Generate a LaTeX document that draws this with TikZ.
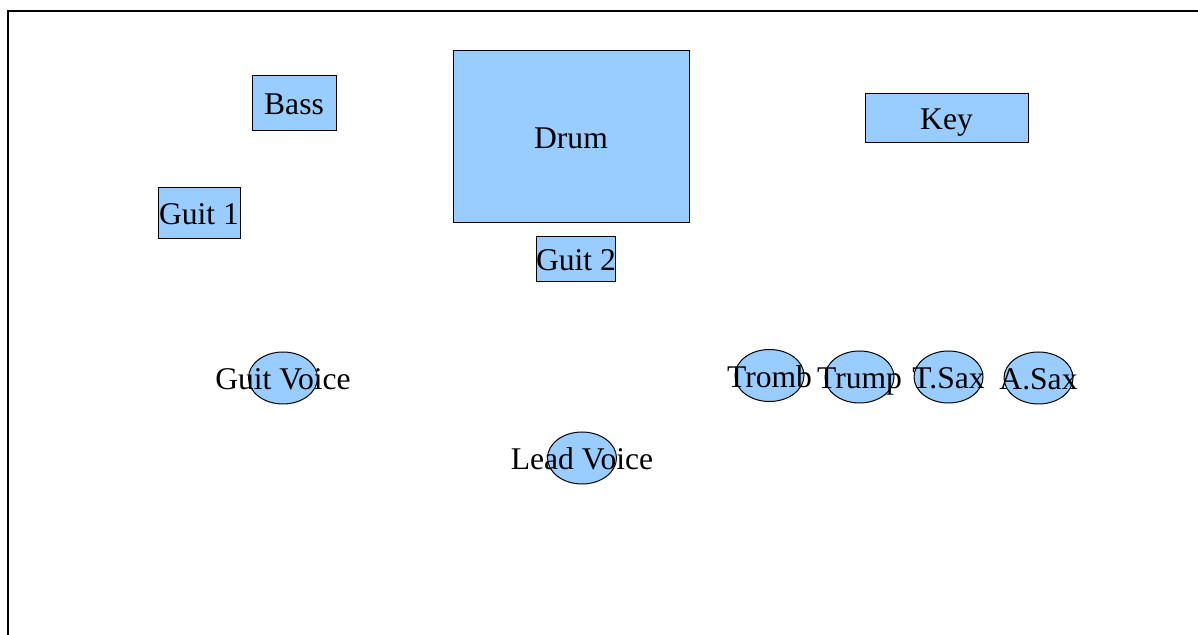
\documentclass[tikz,border=0pt]{standalone}
\usepackage{fontspec}
\setmainfont{Liberation Serif}
\usetikzlibrary{shapes.geometric}
\definecolor{stageblue}{HTML}{99CCFF}

\begin{document}
\begin{tikzpicture}[x=0.5pt, y=-0.5pt,
    every node/.style={draw, fill=stageblue, line width=0.5pt, inner sep=0pt,
        font=\fontsize{15.8}{18}\selectfont, text height=12pt, text depth=0pt},
    amp/.style={rectangle},
    mic/.style={ellipse, minimum width=34.5pt, minimum height=26pt}]
    \useasboundingbox (0,0) rectangle (1198,635);
    \draw[line width=0.6pt] (8,11) rectangle (1220,660);

    \node[amp, minimum width=42pt, minimum height=27.5pt] (bass) at (294,103) {Bass};
    \node[amp, minimum width=41pt, minimum height=25.5pt] (guit1) at (199,213) {Guit 1};
    \node[amp, minimum width=118pt, minimum height=86pt] (drum) at (571,136.5) {Drum};
    \node[amp, minimum width=81.5pt, minimum height=24.5pt] (key) at (946.5,118) {Key};
    \node[amp, minimum width=39pt, minimum height=22.5pt] (guit2) at (576,259) {Guit 2};

    \node[mic, label={[draw=none, fill=none]center:Guit Voice}] (guitvoice) at (283,378) {};
    \node[mic, label={[draw=none, fill=none]center:Lead Voice}] (leadvoice) at (582,458) {};
    \node[mic, label={[draw=none, fill=none]center:Tromb}] (tromb) at (769.5,375.5) {};
    \node[mic, label={[draw=none, fill=none]center:Trump}] (trump) at (859.5,377) {};
    \node[mic, label={[draw=none, fill=none]center:T.Sax}] (tsax) at (948.5,377) {};
    \node[mic, label={[draw=none, fill=none]center:A.Sax}] (asax) at (1038.5,378) {};
\end{tikzpicture}
\end{document}
